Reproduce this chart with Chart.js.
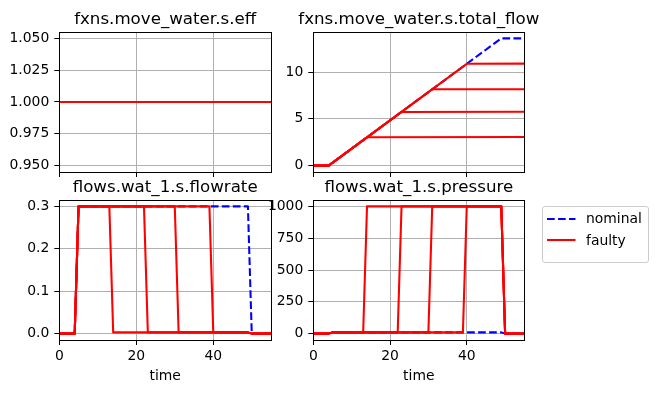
<!DOCTYPE html>
<html>
<head>
<meta charset="utf-8">
<script src="https://cdn.jsdelivr.net/npm/chart.js@4.4.1/dist/chart.umd.min.js"></script>
<style>
html, body { margin:0; padding:0; background:#ffffff; }
body { position:relative; width:657px; height:393px; overflow:hidden; font-family:'DejaVu Sans', sans-serif; }
canvas { position:absolute; }
.legend-frame { position:absolute; box-sizing:border-box; border:1px solid #cccccc; border-radius:3px; background:rgba(255,255,255,0.8); }
.legend-text { position:absolute; font-family:'DejaVu Sans', sans-serif; font-size:13.9px; line-height:16.7px; height:16.7px; color:#000; white-space:nowrap; }
</style>
</head>
<body>
<script>
// ---------- data ----------
const titles = ['fxns.move_water.s.eff', 'fxns.move_water.s.total_flow', 'flows.wat_1.s.flowrate', 'flows.wat_1.s.pressure'];
const xLabel = 'time';
const seriesNames = ['nominal', 'faulty'];

const timeRange = [0, 55];
const timeTicks = [0, 20, 40];

const effRange = [0.945, 1.055];
const effTicks = [0.95, 0.975, 1.0, 1.025, 1.05];
const totalRange = [-0.68, 14.28];
const totalTicks = [0, 5, 10];
const flowRange = [-0.015, 0.315];
const flowTicks = [0.0, 0.1, 0.2, 0.3];
const pressRange = [-50, 1050];
const pressTicks = [0, 250, 500, 750, 1000];

const effNomT = [0, 55];
const effNomV = [1.0, 1.0];
const effFaultT = [[0, 55], [0, 55], [0, 55], [0, 55]];
const effFaultV = [[1.0, 1.0], [1.0, 1.0], [1.0, 1.0], [1.0, 1.0]];

const totalNomT = [0, 4, 49, 55];
const totalNomV = [0, 0, 13.6, 13.6];
const totalFaultT = [[0, 4, 14, 55], [0, 4, 23, 55], [0, 4, 31, 55], [0, 4, 40, 55]];
const totalFaultV = [[0, 0, 3.03, 3.06], [0, 0, 5.74, 5.76], [0, 0, 8.16, 8.17], [0, 0, 10.88, 10.9]];

const flowNomT = [0, 4, 5, 49, 50, 55];
const flowNomV = [0, 0, 0.3, 0.3, 0, 0];
const flowFaultT = [[0, 4, 5, 13, 14, 49, 50, 55], [0, 4, 5, 22, 23, 49, 50, 55], [0, 4, 5, 30, 31, 49, 50, 55], [0, 4, 5, 39, 40, 49, 50, 55]];
const flowFaultV = [[0, 0, 0.3, 0.3, 0.003, 0.003, 0, 0], [0, 0, 0.3, 0.3, 0.003, 0.003, 0, 0], [0, 0, 0.3, 0.3, 0.003, 0.003, 0, 0], [0, 0, 0.3, 0.3, 0.003, 0.003, 0, 0]];

const pressNomT = [0, 4, 5, 49, 50, 55];
const pressNomV = [0, 0, 10, 10, 0, 0];
const pressFaultT = [[0, 4, 5, 13, 14, 49, 50, 55], [0, 4, 5, 22, 23, 49, 50, 55], [0, 4, 5, 30, 31, 49, 50, 55], [0, 4, 5, 39, 40, 49, 50, 55]];
const pressFaultV = [[0, 0, 10, 10, 1000, 1000, 0, 0], [0, 0, 10, 10, 1000, 1000, 0, 0], [0, 0, 10, 10, 1000, 1000, 0, 0], [0, 0, 10, 10, 1000, 1000, 0, 0]];

// ---------- styling / layout ----------
Chart.defaults.font.family = "'DejaVu Sans', sans-serif";
Chart.defaults.color = '#000000';
const FS_TICK = 13.9;
const FS_TITLE = 16.67;
const NOM_COLOR = '#0000ff';
const FAULT_COLOR = '#ff0000';
const LW = 2.08;

const framePlugin = {
  id: 'frame',
  afterDraw(chart) {
    const a = chart.chartArea;
    const ctx = chart.ctx;
    const l = Math.round(a.left), r = Math.round(a.right), t = Math.round(a.top), b = Math.round(a.bottom);
    ctx.save();
    ctx.strokeStyle = '#000000';
    ctx.lineWidth = 1;
    ctx.strokeRect(l + 0.5, t + 0.5, r - l, b - t);
    ctx.restore();
  }
};

function buildDatasets(nomT, nomV, faultT, faultV) {
  const out = [{
    label: seriesNames[0],
    data: nomT.map((t, i) => ({ x: t, y: nomV[i] })),
    borderColor: NOM_COLOR, backgroundColor: NOM_COLOR,
    borderWidth: LW, borderDash: [7.7, 3.3], borderCapStyle: 'butt', borderJoinStyle: 'round',
    pointRadius: 0, fill: false, tension: 0, order: 1, xAxisID: 'x', yAxisID: 'y'
  }];
  faultT.forEach((T, k) => {
    out.push({
      label: seriesNames[1],
      data: T.map((t, i) => ({ x: t, y: faultV[k][i] })),
      borderColor: FAULT_COLOR, backgroundColor: FAULT_COLOR,
      borderWidth: LW, borderCapStyle: 'butt', borderJoinStyle: 'round',
      pointRadius: 0, fill: false, tension: 0, order: 0, xAxisID: 'x', yAxisID: 'y'
    });
  });
  return out;
}

function panel(p) {
  const yW = p.L - p.CL;
  const need = (p.R - p.CL) + yW;
  const W = Math.ceil(need);
  const H = p.showX ? 393 - p.CT : (p.B - p.CT) + 18;
  const cv = document.createElement('canvas');
  cv.width = W; cv.height = H;
  cv.style.left = p.CL + 'px'; cv.style.top = p.CT + 'px';
  cv.style.width = W + 'px'; cv.style.height = H + 'px';
  document.body.appendChild(cv);
  const titleH = p.T - p.CT;
  const lh = FS_TITLE * 1.2;
  const tBottom = 2.6;
  const tTop = titleH - lh - tBottom;
  const xH = H - (p.B - p.CT);
  const gridOpts = { color: '#b0b0b0', lineWidth: 1, drawTicks: true, tickLength: 5, tickColor: '#000000', tickWidth: 1 };
  return new Chart(cv.getContext('2d'), {
    type: 'line',
    data: { datasets: p.datasets },
    options: {
      responsive: false, animation: false, devicePixelRatio: 1,
      layout: { padding: { left: 0, top: 0, bottom: 0, right: W - need } },
      plugins: {
        legend: { display: false },
        tooltip: { enabled: false },
        title: { display: true, text: p.title, color: '#000000', font: { size: FS_TITLE, weight: 'normal' }, padding: { top: tTop, bottom: tBottom } }
      },
      scales: {
        x: {
          type: 'linear', position: 'bottom', min: timeRange[0], max: timeRange[1],
          afterBuildTicks: s => { s.ticks = timeTicks.map(v => ({ value: v })); },
          afterFit: s => { s.height = xH; },
          grid: gridOpts,
          border: { display: false },
          ticks: { display: p.showX, padding: 3, maxRotation: 0, autoSkip: false, font: { size: FS_TICK }, color: '#000000', callback: v => String(v) },
          title: { display: p.showX, text: xLabel, color: '#000000', font: { size: FS_TICK }, padding: { top: 0, bottom: 8 } }
        },
        y: {
          type: 'linear', position: 'left', min: p.yRange[0], max: p.yRange[1],
          afterBuildTicks: s => { s.ticks = p.yTicks.map(v => ({ value: v })); },
          afterFit: s => { s.width = yW; },
          grid: gridOpts,
          border: { display: false },
          ticks: { padding: 5, font: { size: FS_TICK }, color: '#000000', callback: v => p.fmt(v) }
        },
        yR: {
          type: 'linear', position: 'right', display: true,
          afterFit: s => { s.width = yW; },
          grid: { display: false }, border: { display: false }, ticks: { display: false }
        }
      }
    },
    plugins: [framePlugin]
  });
}

const chEff = panel({ CL: 0, CT: 0, L: 59.3, R: 271, T: 32, B: 172, showX: false, title: titles[0],
  yRange: effRange, yTicks: effTicks, fmt: v => v.toFixed(3),
  datasets: buildDatasets(effNomT, effNomV, effFaultT, effFaultV) });
const chTotal = panel({ CL: 262, CT: 0, L: 313.3, R: 524.3, T: 32, B: 172, showX: false, title: titles[1],
  yRange: totalRange, yTicks: totalTicks, fmt: v => String(v),
  datasets: buildDatasets(totalNomT, totalNomV, totalFaultT, totalFaultV) });
const chFlow = panel({ CL: 0, CT: 170, L: 59.3, R: 271, T: 200, B: 340, showX: true, title: titles[2],
  yRange: flowRange, yTicks: flowTicks, fmt: v => v.toFixed(1),
  datasets: buildDatasets(flowNomT, flowNomV, flowFaultT, flowFaultV) });
const chPress = panel({ CL: 262, CT: 170, L: 313.3, R: 524.3, T: 200, B: 340, showX: true, title: titles[3],
  yRange: pressRange, yTicks: pressTicks, fmt: v => String(v),
  datasets: buildDatasets(pressNomT, pressNomV, pressFaultT, pressFaultV) });

// ---------- legend (built from the pressure chart's datasets) ----------
(function buildLegend(chart) {
  const seen = new Set();
  const items = [];
  chart.data.datasets.forEach(d => {
    if (!seen.has(d.label)) { seen.add(d.label); items.push(d); }
  });
  const frame = document.createElement('div');
  frame.className = 'legend-frame';
  Object.assign(frame.style, { left: '542px', top: '206px', width: '107px', height: '57px' });
  document.body.appendChild(frame);
  items.forEach((d, i) => {
    const cy = 218.5 + i * 21.7;
    const c = document.createElement('canvas');
    c.width = 29; c.height = 6;
    Object.assign(c.style, { left: '547px', top: (cy - 3) + 'px', width: '29px', height: '6px' });
    document.body.appendChild(c);
    const g = c.getContext('2d');
    g.strokeStyle = d.borderColor; g.lineWidth = d.borderWidth;
    g.setLineDash(d.borderDash || []);
    g.beginPath(); g.moveTo(0, 3); g.lineTo(28.5, 3); g.stroke();
    const tx = document.createElement('div');
    tx.className = 'legend-text';
    tx.textContent = d.label;
    Object.assign(tx.style, { left: '586px', top: (cy - 8.6) + 'px' });
    document.body.appendChild(tx);
  });
})(chPress);
</script>
</body>
</html>
